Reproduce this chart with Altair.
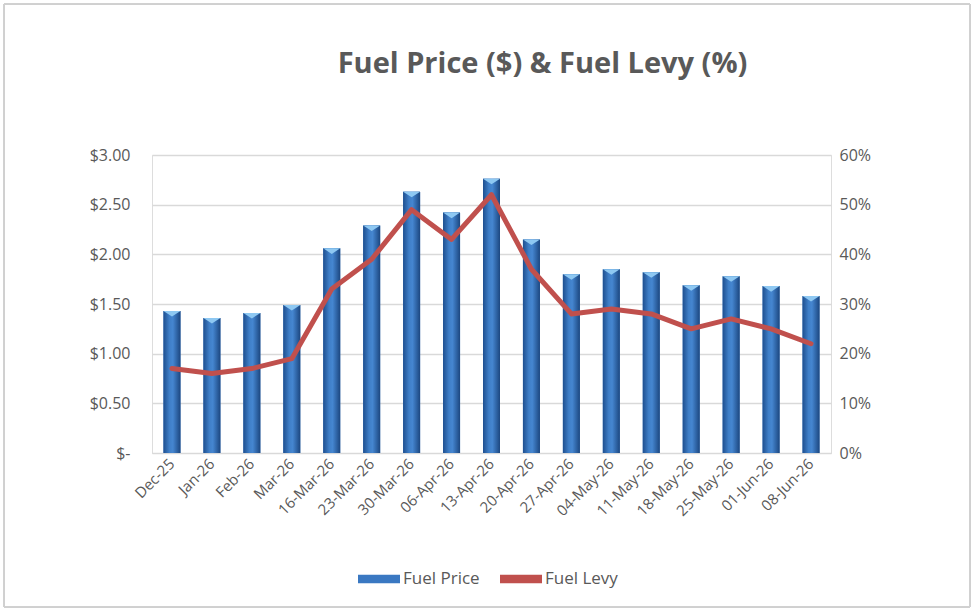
import altair as alt
import pandas as pd

dates = ["Dec-25", "Jan-26", "Feb-26", "Mar-26", "16-Mar-26", "23-Mar-26", "30-Mar-26",
         "06-Apr-26", "13-Apr-26", "20-Apr-26", "27-Apr-26", "04-May-26", "11-May-26",
         "18-May-26", "25-May-26", "01-Jun-26", "08-Jun-26"]
fuel_price = [1.43, 1.36, 1.41, 1.49, 2.06, 2.29, 2.63, 2.42, 2.76, 2.15, 1.80, 1.85,
              1.82, 1.69, 1.78, 1.68, 1.58]
fuel_levy = [0.17, 0.16, 0.17, 0.19, 0.33, 0.39, 0.49, 0.43, 0.52, 0.37, 0.28, 0.29,
             0.28, 0.25, 0.27, 0.25, 0.22]

df = pd.DataFrame({"date": dates, "price": fuel_price, "levy": fuel_levy})

FONT = "Open Sans"
GREY = "#595959"

x_enc = alt.X("date:N", sort=dates, title=None,
              scale=alt.Scale(paddingInner=0.58, paddingOuter=0.29),
              axis=alt.Axis(labelAngle=-45, labelAlign="right", labelBaseline="middle",
                            labelFontSize=15, labelColor=GREY, labelFont=FONT,
                            ticks=False, domain=True, domainColor="#D9D9D9",
                            labelPadding=8))

color_scale = alt.Scale(domain=["Fuel Price", "Fuel Levy"], range=["#3A78C2", "#C0504D"])
legend = alt.Legend(title=None, orient="none", direction="horizontal",
                    legendX=206, legendY=403,
                    symbolType="M -1 -0.2 L 1 -0.2 L 1 0.2 L -1 0.2 Z",
                    symbolSize=1764, labelFontSize=17, labelColor=GREY, labelFont=FONT,
                    labelOffset=3, columnPadding=20, symbolStrokeWidth=0,
                    symbolOpacity=1)

y_left = alt.Y("price:Q", title=None,
               scale=alt.Scale(domain=[0, 3]),
               axis=alt.Axis(values=[0, 0.5, 1, 1.5, 2, 2.5, 3],
                             labelExpr="datum.value == 0 ? '$-' : '$' + format(datum.value, '.2f')",
                             labelFontSize=16, labelColor=GREY, labelFont=FONT,
                             ticks=False, domain=False, grid=True, gridColor="#D9D9D9",
                             gridWidth=1.3, labelPadding=22))

base = alt.Chart(df)

bars_plain = base.transform_calculate(series="'Fuel Price'").mark_bar(size=17).encode(
    x=x_enc, y=y_left,
    color=alt.Color("series:N", scale=color_scale, legend=legend))

gradient = {"gradient": "linear", "x1": 0, "y1": 0, "x2": 1, "y2": 0,
            "stops": [{"offset": 0, "color": "#1E4F8F"},
                      {"offset": 0.35, "color": "#3F7FC8"},
                      {"offset": 0.55, "color": "#4586D0"},
                      {"offset": 1, "color": "#1C4780"}]}
bars_grad = base.mark_bar(size=17, color=gradient).encode(x=x_enc, y="price:Q")

caps = base.mark_point(shape="M -1 0 L 1 0 L 0 0.65 Z", size=289, filled=True,
                       color="#8EC8F2", opacity=1).encode(x=x_enc, y="price:Q")

frame = base.mark_rect(fill=None, stroke="#D0D0D0", strokeWidth=1).encode(
    x=alt.value(-148), x2=alt.value(818), y=alt.value(-151), y2=alt.value(452))

left = alt.layer(frame, bars_plain, bars_grad, caps)

line = base.transform_calculate(series="'Fuel Levy'").mark_line(
    strokeWidth=5, strokeJoin="round", strokeCap="round").encode(
    x=x_enc,
    y=alt.Y("levy:Q", title=None, scale=alt.Scale(domain=[0, 0.6]),
            axis=alt.Axis(orient="right", values=[0, 0.1, 0.2, 0.3, 0.4, 0.5, 0.6],
                          format=".0%", labelFontSize=16, labelColor=GREY, labelFont=FONT,
                          ticks=False, domain=False, grid=False, labelPadding=8)),
    color=alt.Color("series:N", scale=color_scale, legend=legend))

chart = alt.layer(left, line).resolve_scale(y="independent").properties(
    width=679, height=298,
    autosize=alt.AutoSizeParams(type="none"),
    padding={"left": 152, "top": 155, "right": 145, "bottom": 161},
    title=alt.TitleParams("Fuel Price ($) & Fuel Levy (%)", fontSize=29, font=FONT,
                          fontWeight="bold", color=GREY, anchor="middle", dx=51,
                          baseline="bottom", offset=-104, frame="group"),
).configure_view(stroke=None).configure(background="white")

chart.save("out.html", embed_options={"renderer": "svg", "actions": False})
